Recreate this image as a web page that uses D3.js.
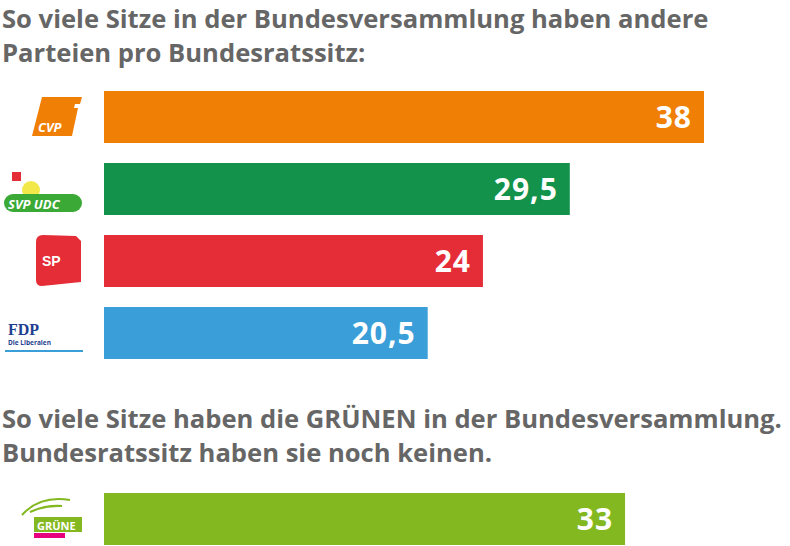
<!DOCTYPE html>
<html><head><meta charset="utf-8">
<script src="https://cdn.jsdelivr.net/npm/d3@7"></script>
<style>body{margin:0;background:#fff}text{font-family:"Open Sans",sans-serif;font-weight:700}</style>
</head><body><svg id="c" width="790" height="546"></svg>
<script>
"use strict";
var parties = ["CVP", "SVP", "SP", "FDP"];
var seats = [38, 29.5, 24, 20.5];
var colors = ["#f07f06", "#12924a", "#e52d38", "#3a9ed8"];
var greenSeats = 33;
var title1 = ["So viele Sitze in der Bundesversammlung haben andere", "Parteien pro Bundesratssitz:"];
var title2 = ["So viele Sitze haben die GRÜNEN in der Bundesversammlung.", "Bundesratssitz haben sie noch keinen."];

var svg = d3.select("#c");
var x = d3.scaleLinear().domain([0, 38]).range([104, 704]);
var fmt = v => String(v).replace(".", ",");

function titles(lines, y0) {
    svg.selectAll(null).data(lines).enter().append("text")
        .attr("x", 2).attr("y", (d, i) => y0 + i * 34)
        .attr("fill", "#666").attr("font-size", 25.6).text(d => d);
}
titles(title1, 28);
titles(title2, 428);

var rows = parties.map((p, i) => ({p: p, v: seats[i], c: colors[i], y: 91 + i * 72}));
rows.push({p: "GRÜNE", v: greenSeats, c: "#84b821", y: 493});

svg.selectAll("rect.bar").data(rows).enter().append("rect").attr("class", "bar")
    .attr("x", x(0)).attr("y", d => d.y).attr("width", d => x(d.v) - x(0)).attr("height", 52)
    .attr("fill", d => d.c);
svg.selectAll("text.val").data(rows).enter().append("text").attr("class", "val")
    .attr("x", d => x(d.v) - 12).attr("y", d => d.y + 37).attr("text-anchor", "end")
    .attr("fill", "#fff").attr("font-size", 30).attr("letter-spacing", 1).text(d => fmt(d.v));

// logos
var g = svg.append("g");
g.append("path").attr("d", "M42,97 L82,97 L80,104 L75,104 L74,108 L78,108 L72,136 L32,136 Z").attr("fill", "#f07f06");
g.append("text").attr("x", 38).attr("y", 132).attr("fill", "#fff").attr("font-size", 13).attr("font-style", "italic").text("CVP");
g.append("circle").attr("cx", 31).attr("cy", 190).attr("r", 9).attr("fill", "#f3e84a");
g.append("rect").attr("x", 12).attr("y", 172).attr("width", 9).attr("height", 9).attr("fill", "#e52d38");
g.append("rect").attr("x", 4).attr("y", 194).attr("width", 78).attr("height", 18).attr("rx", 9).attr("fill", "#3aa935");
g.append("text").attr("x", 8).attr("y", 209).attr("fill", "#fff").attr("font-size", 13).attr("font-style", "italic").text("SVP UDC");
g.append("path").attr("d", "M36,242 Q36,235 43,235 L76,236 L81,241 L81,282 L42,286 Q36,286 36,280 Z").attr("fill", "#e52d38");
g.append("text").attr("x", 42).attr("y", 266).attr("fill", "#fff").attr("font-size", 14).style("font-family", "Liberation Sans").text("SP");
g.append("text").attr("x", 8).attr("y", 335).attr("fill", "#1f3f8f").attr("font-size", 16).style("font-family", "Liberation Serif").text("FDP");
g.append("text").attr("x", 8).attr("y", 345).attr("fill", "#1f3f8f").attr("font-size", 6.5).text("Die Liberalen");
g.append("rect").attr("x", 5).attr("y", 350).attr("width", 78).attr("height", 2).attr("fill", "#3a9ed8");
g.append("path").attr("d", "M22,515 Q40,495 70,500 M30,512 Q45,505 62,506").attr("stroke", "#84b821").attr("stroke-width", 2).attr("fill", "none");
g.append("rect").attr("x", 34).attr("y", 517).attr("width", 48).attr("height", 15).attr("fill", "#84b821");
g.append("text").attr("x", 37).attr("y", 530).attr("fill", "#fff").attr("font-size", 11).text("GRÜNE");
g.append("rect").attr("x", 34).attr("y", 533).attr("width", 31).attr("height", 5).attr("fill", "#e6007e");
</script></body></html>
